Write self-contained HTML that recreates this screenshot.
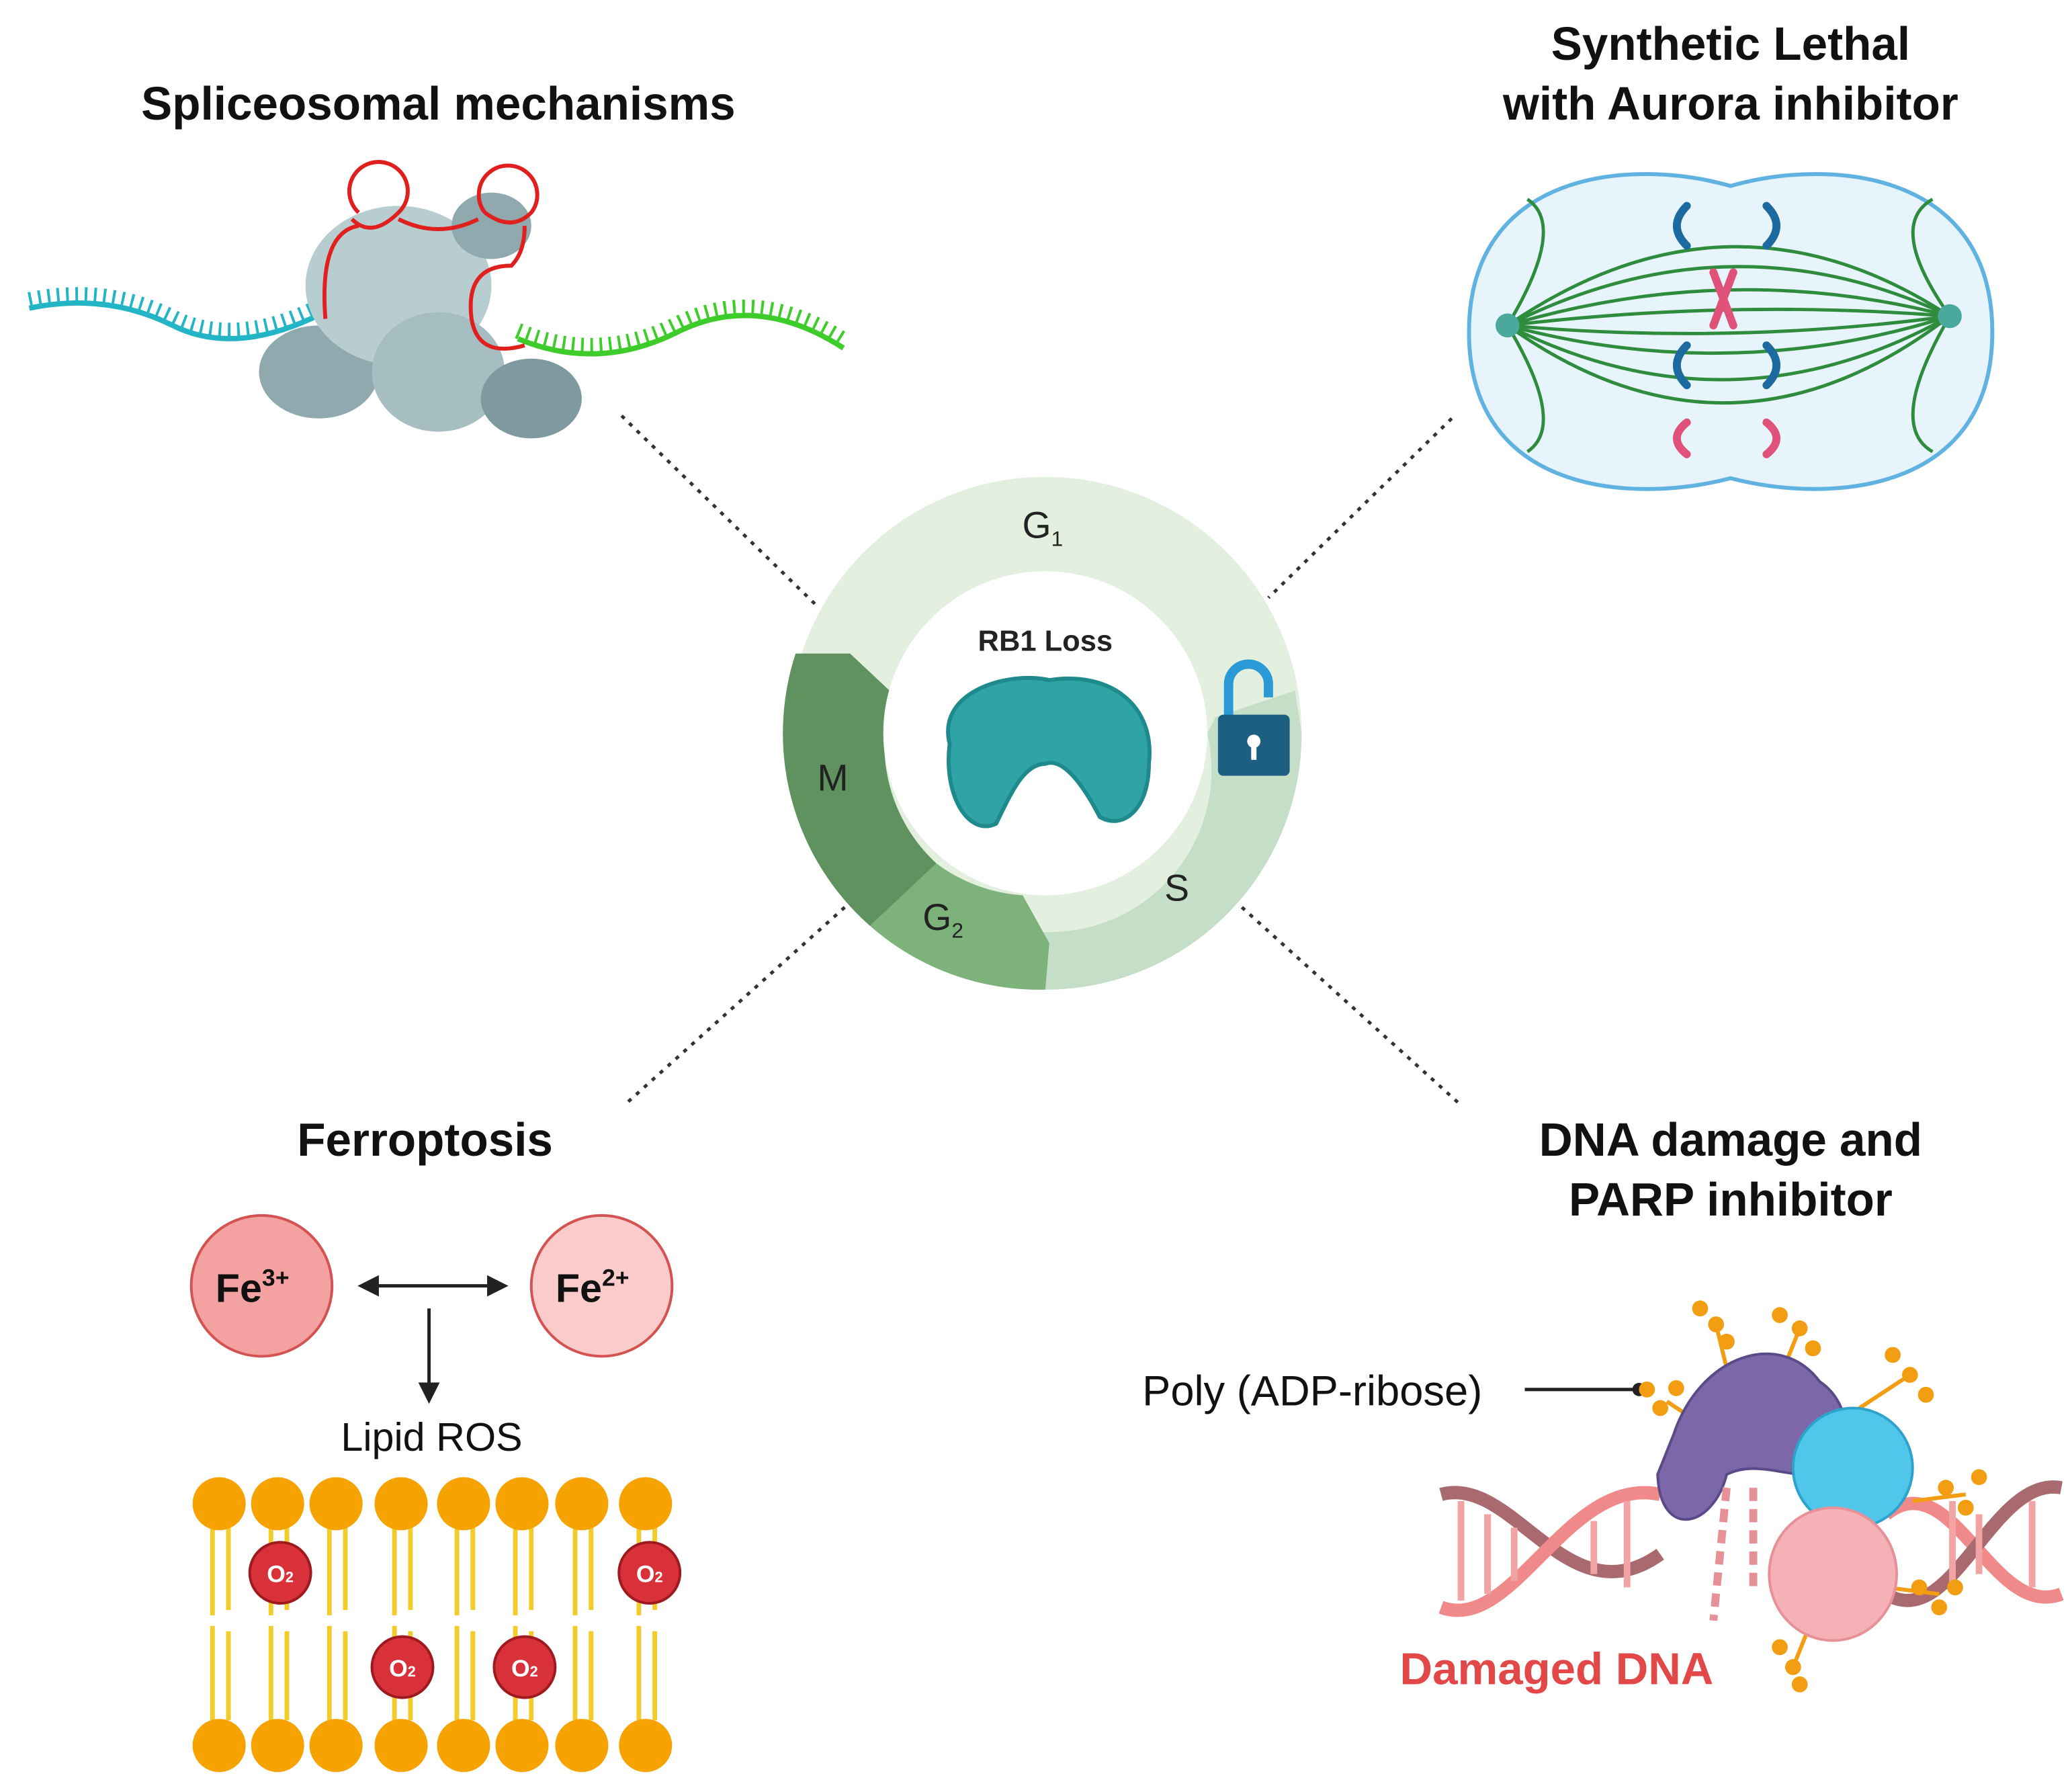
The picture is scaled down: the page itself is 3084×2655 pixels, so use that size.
<!DOCTYPE html>
<html><head><meta charset="utf-8"><style>
html,body{margin:0;padding:0;background:#fff;}
svg{display:block;}
text{font-family:"Liberation Sans",sans-serif;}
</style></head><body>
<svg width="3084" height="2655" viewBox="0 0 1560 1343" preserveAspectRatio="none" xmlns="http://www.w3.org/2000/svg">
<rect width="1560" height="1343" fill="#fff"/>
<g font-weight="bold" font-size="35" fill="#111" text-anchor="middle">
<text x="330" y="90">Spliceosomal mechanisms</text>
<text x="1303" y="45">Synthetic Lethal</text>
<text x="1303" y="90">with Aurora inhibitor</text>
<text x="320" y="870">Ferroptosis</text>
<text x="1303" y="870">DNA damage and</text>
<text x="1303" y="915">PARP inhibitor</text>
</g>
<g stroke="#333" stroke-width="2.5" stroke-dasharray="3,5">
<line x1="468" y1="313" x2="617" y2="458"/>
<line x1="1093" y1="315" x2="955" y2="450"/>
<line x1="636" y1="683" x2="470" y2="832"/>
<line x1="935" y1="683" x2="1100" y2="832"/>
</g>
<g>
<circle cx="787" cy="552" r="157" fill="none" stroke="#e3efdf" stroke-width="72"/>
<path d="M980,552 A193,193 0 0 1 787,745 L770,700 A122,122 0 0 0 909,552 Z" fill="#c4dec7"/>
<path d="M980,552 L909,552 L915,540 L975,520 Z" fill="#c4dec7"/>
<path d="M787,745 A193,193 0 0 1 655,697 L705,650 A122,122 0 0 0 770,674 L790,710 Z" fill="#7eb27b"/>
<path d="M655,697 A193,193 0 0 1 599,492 L640,492 L672,522 A122,122 0 0 0 705,650 Z" fill="#5f925f"/>
<circle cx="787" cy="552" r="122" fill="#fff"/>
<g font-size="28" fill="#222" text-anchor="middle">
<text x="785" y="405">G<tspan font-size="16" dy="6">1</tspan></text>
<text x="886" y="678">S</text>
<text x="710" y="700">G<tspan font-size="16" dy="6">2</tspan></text>
<text x="627" y="595">M</text>
</g>
<text x="787" y="490" font-size="22" font-weight="bold" fill="#222" text-anchor="middle">RB1 Loss</text>
<path d="M715,560 C705,520 760,505 790,512 C835,505 870,530 865,575 C865,610 845,625 828,615 C815,590 800,570 787,575 C770,575 760,600 750,620 C730,630 710,600 715,560 Z" fill="#2fa3a5" stroke="#1f8a8c" stroke-width="3"/>
<path d="M925,540 V515 A15,15 0 0 1 955,515 V525" fill="none" stroke="#2a9ad6" stroke-width="7"/>
<rect x="917" y="538" width="54" height="46" rx="4" fill="#1d5f80"/>
<circle cx="944" cy="558" r="5" fill="#fff"/><rect x="942" y="560" width="4" height="12" fill="#fff"/>
</g>
<g>
<path d="M22,232 Q80,220 130,245 T250,232" fill="none" stroke="#23b5c6" stroke-width="4"/>
<path d="M22,226 Q80,214 130,239 T250,226" fill="none" stroke="#23b5c6" stroke-width="12" stroke-dasharray="2,5"/>
<path d="M390,255 Q450,280 510,250 T635,262" fill="none" stroke="#3dcc2a" stroke-width="4"/>
<path d="M390,249 Q450,274 510,244 T635,256" fill="none" stroke="#3dcc2a" stroke-width="12" stroke-dasharray="2,5"/>
<g fill="#8fa9ae">
<ellipse cx="240" cy="280" rx="45" ry="35"/>
<ellipse cx="300" cy="215" rx="70" ry="60" fill="#b8cdd0"/>
<ellipse cx="330" cy="280" rx="50" ry="45" fill="#a6bec2"/>
<ellipse cx="400" cy="300" rx="38" ry="30" fill="#7e9aa0"/>
<ellipse cx="370" cy="170" rx="30" ry="25"/>
</g>
<g fill="none" stroke="#e0201e" stroke-width="3">
<path d="M270,160 A22,22 0 1 1 300,160 Q280,180 265,165"/>
<path d="M365,160 A22,22 0 1 1 400,160 Q385,175 365,160"/>
<path d="M245,240 Q240,175 270,170 M300,165 Q330,180 360,165 M395,170 Q395,190 385,200 Q350,200 355,240 Q360,270 395,260"/>
</g>
</g>
<g>
<path d="M1303,140 C1380,118 1500,130 1500,250 C1500,370 1380,380 1303,360 C1226,380 1106,370 1106,250 C1106,130 1226,118 1303,140 Z" fill="#e7f4fb" stroke="#60b2e0" stroke-width="3"/>
<g fill="none" stroke="#2e8c3c" stroke-width="2.5">
<path d="M1135,245 Q1303,130 1468,238"/><path d="M1135,245 Q1303,160 1468,238"/>
<path d="M1135,245 Q1303,195 1468,238"/><path d="M1135,245 Q1303,225 1468,238"/>
<path d="M1135,245 Q1303,260 1468,238"/><path d="M1135,245 Q1303,290 1468,238"/>
<path d="M1135,245 Q1303,330 1468,238"/><path d="M1135,245 Q1303,365 1468,238"/>
<path d="M1135,245 Q1180,170 1150,150"/><path d="M1135,245 Q1180,320 1150,340"/>
<path d="M1468,238 Q1420,170 1455,150"/><path d="M1468,238 Q1420,320 1455,340"/>
</g>
<circle cx="1135" cy="245" r="9" fill="#4aa89c"/><circle cx="1468" cy="238" r="9" fill="#4aa89c"/>
<g fill="none" stroke-width="6" stroke-linecap="round">
<path d="M1270,155 Q1255,170 1270,185" stroke="#1d6aa0"/><path d="M1330,155 Q1345,170 1330,185" stroke="#1d6aa0"/>
<path d="M1270,260 Q1255,275 1270,290" stroke="#1d6aa0"/><path d="M1330,260 Q1345,275 1330,290" stroke="#1d6aa0"/>
<path d="M1270,318 Q1255,330 1270,342" stroke="#e0527a"/><path d="M1330,318 Q1345,330 1330,342" stroke="#e0527a"/>
<path d="M1290,205 L1305,245 M1305,205 L1290,245" stroke="#e0527a"/>
</g>
</g>
<g>
<circle cx="197" cy="968" r="53" fill="#f4a1a1" stroke="#d45252" stroke-width="2"/>
<circle cx="453" cy="968" r="53" fill="#f9cbcb" stroke="#d45252" stroke-width="2"/>
<g font-size="30" font-weight="bold" fill="#111" text-anchor="middle">
<text x="190" y="980">Fe<tspan font-size="18" dy="-12">3+</tspan></text>
<text x="446" y="980">Fe<tspan font-size="18" dy="-12">2+</tspan></text>
</g>
<g stroke="#222" stroke-width="2.5" fill="#222">
<line x1="280" y1="968" x2="372" y2="968"/>
<path d="M272,968 L284,962 L284,974 Z"/><path d="M380,968 L368,962 L368,974 Z"/>
<line x1="323" y1="985" x2="323" y2="1045"/><path d="M323,1054 L317,1042 L329,1042 Z"/>
</g>
<text x="325" y="1092" font-size="30" fill="#111" text-anchor="middle">Lipid ROS</text>
<g stroke="#f1cc2a" stroke-width="3.5" fill="none">
<path d="M160,1150 V1216 M172,1150 V1212 M204,1150 V1216 M216,1150 V1212 M248,1150 V1216 M260,1150 V1212 M297,1150 V1216 M309,1150 V1212 M344,1150 V1216 M356,1150 V1212 M388,1150 V1216 M400,1150 V1212 M433,1150 V1216 M445,1150 V1212 M481,1150 V1216 M493,1150 V1212"/>
<path d="M160,1224 V1295 M172,1228 V1295 M204,1224 V1295 M216,1228 V1295 M248,1224 V1295 M260,1228 V1295 M297,1224 V1295 M309,1228 V1295 M344,1224 V1295 M356,1228 V1295 M388,1224 V1295 M400,1228 V1295 M433,1224 V1295 M445,1228 V1295 M481,1224 V1295 M493,1228 V1295"/>
</g>
<g fill="#f6a200">
<circle cx="165" cy="1132" r="20"/><circle cx="209" cy="1132" r="20"/><circle cx="253" cy="1132" r="20"/><circle cx="302" cy="1132" r="20"/><circle cx="349" cy="1132" r="20"/><circle cx="393" cy="1132" r="20"/><circle cx="438" cy="1132" r="20"/><circle cx="486" cy="1132" r="20"/>
<circle cx="165" cy="1314" r="20"/><circle cx="209" cy="1314" r="20"/><circle cx="253" cy="1314" r="20"/><circle cx="302" cy="1314" r="20"/><circle cx="349" cy="1314" r="20"/><circle cx="393" cy="1314" r="20"/><circle cx="438" cy="1314" r="20"/><circle cx="486" cy="1314" r="20"/>
</g>
<g fill="#d8313a" stroke="#9e1a20" stroke-width="2">
<circle cx="211" cy="1184" r="23"/><circle cx="489" cy="1184" r="23"/><circle cx="303" cy="1255" r="23"/><circle cx="395" cy="1255" r="23"/>
</g>
<g font-size="18" font-weight="bold" fill="#fff" text-anchor="middle">
<text x="211" y="1191">O<tspan font-size="11">2</tspan></text><text x="489" y="1191">O<tspan font-size="11">2</tspan></text>
<text x="303" y="1262">O<tspan font-size="11">2</tspan></text><text x="395" y="1262">O<tspan font-size="11">2</tspan></text>
</g>
</g>
<g>
<text x="988" y="1058" font-size="32" fill="#111" text-anchor="middle">Poly (ADP-ribose)</text>
<line x1="1148" y1="1046" x2="1232" y2="1046" stroke="#222" stroke-width="2.5"/>
<circle cx="1234" cy="1046" r="5" fill="#222"/>
<g fill="none" stroke-width="10">
<path d="M1085,1125 C1140,1110 1180,1220 1250,1170" stroke="#a86a6e"/>
<path d="M1085,1210 C1140,1230 1180,1110 1250,1125" stroke="#f08a8a"/>
<path d="M1420,1140 C1470,1100 1500,1220 1552,1200" stroke="#f08a8a"/>
<path d="M1420,1200 C1470,1230 1500,1110 1552,1120" stroke="#a86a6e"/>
</g>
<g stroke="#f2a3a3" stroke-width="5">
<path d="M1100,1130 V1205 M1120,1140 V1200 M1140,1150 V1190 M1200,1145 V1185 M1225,1130 V1195 M1470,1130 V1195 M1490,1140 V1185 M1530,1130 V1195"/>
</g>
<g stroke="#f29d12" stroke-width="3">
<path d="M1292,997 L1300,1030 M1355,1000 L1345,1025 M1438,1035 L1400,1060 M1255,1055 L1270,1065 M1480,1125 L1440,1130 M1460,1200 L1420,1195 M1350,1255 L1360,1230"/>
</g>
<path d="M1260,1080 C1280,1020 1340,1000 1370,1040 C1400,1060 1395,1110 1360,1110 C1340,1110 1320,1100 1300,1110 C1290,1150 1250,1160 1248,1110 Z" fill="#7c68a8" stroke="#5b4a8a" stroke-width="2"/>
<ellipse cx="1395" cy="1105" rx="45" ry="45" fill="#4fc6ea" stroke="#2da3cc" stroke-width="2"/>
<ellipse cx="1380" cy="1185" rx="48" ry="50" fill="#f5b2b6" stroke="#e89098" stroke-width="2"/>
<g stroke="#e89098" stroke-width="6" stroke-dasharray="10,6"><path d="M1300,1120 L1290,1220"/><path d="M1320,1120 L1320,1200"/></g>
<g fill="#f29d12">
<circle cx="1240" cy="1046" r="6"/><circle cx="1250" cy="1060" r="6"/><circle cx="1262" cy="1045" r="6"/>
<circle cx="1280" cy="985" r="6"/><circle cx="1292" cy="997" r="6"/><circle cx="1300" cy="1010" r="6"/>
<circle cx="1340" cy="990" r="6"/><circle cx="1355" cy="1000" r="6"/><circle cx="1365" cy="1015" r="6"/>
<circle cx="1425" cy="1020" r="6"/><circle cx="1438" cy="1035" r="6"/><circle cx="1450" cy="1050" r="6"/>
<circle cx="1465" cy="1120" r="6"/><circle cx="1480" cy="1135" r="6"/><circle cx="1490" cy="1112" r="6"/>
<circle cx="1445" cy="1195" r="6"/><circle cx="1460" cy="1210" r="6"/><circle cx="1472" cy="1195" r="6"/>
<circle cx="1340" cy="1240" r="6"/><circle cx="1350" cy="1255" r="6"/><circle cx="1355" cy="1268" r="6"/>
</g>
<text x="1172" y="1268" font-size="34" font-weight="bold" fill="#e34848" text-anchor="middle">Damaged DNA</text>
</g>
</svg>
</body></html>
